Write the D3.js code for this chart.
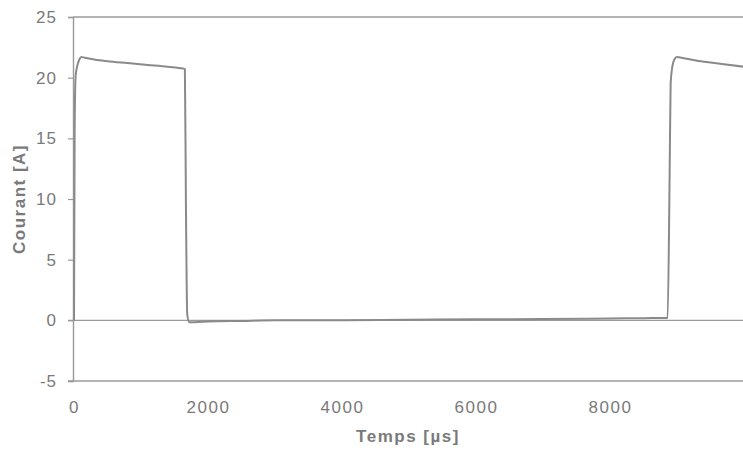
<!DOCTYPE html>
<html>
<head>
<meta charset="utf-8">
<script src="https://cdn.jsdelivr.net/npm/d3@7"></script>
<style>
  html, body { margin: 0; padding: 0; background: #fff; }
  svg { display: block; }
  text { font-family: "Liberation Sans", Arial, sans-serif; fill: #7a7a7a; }
</style>
</head>
<body>
<svg id="chart" width="743" height="450"></svg>
<script>
// ---- data ----
const timeUs = [0, 10, 25, 50, 80, 110, 160, 300, 500, 800, 1100, 1400, 1630, 1655, 1670, 1690, 1720, 1800, 2000, 2500, 3000, 4000, 5000, 6000, 7000, 8000, 8500, 8860, 8890, 8905, 8930, 8960, 9000, 9100, 9300, 9500, 9700, 10000];
const currentA = [0, 16, 20.2, 21.0, 21.5, 21.7, 21.65, 21.5, 21.35, 21.2, 21.05, 20.9, 20.75, 20.7, 10, 0.5, -0.15, -0.15, -0.1, -0.05, 0, 0, 0.05, 0.08, 0.1, 0.15, 0.18, 0.2, 12, 19.5, 20.9, 21.5, 21.7, 21.6, 21.4, 21.25, 21.1, 20.9];
const xTicks = [0, 2000, 4000, 6000, 8000];
const xTickLabels = ["0", "2000", "4000", "6000", "8000"];
const yTicks = [-5, 0, 5, 10, 15, 20, 25];
const yTickLabels = ["-5", "0", "5", "10", "15", "20", "25"];
const xTitle = "Temps [µs]";
const yTitle = "Courant [A]";

// ---- layout ----
const svg = d3.select("#chart");
const mLeft = 74, mRight = 744, mTop = 17, mBottom = 381;
const x = d3.scaleLinear().domain([0, 10000]).range([mLeft, mRight]);
const y = d3.scaleLinear().domain([-5, 25]).range([mBottom, mTop]);

const axisColor = "#9a9a9a";

// horizontal lines at 25, 0, -5
svg.append("line").attr("x1", mLeft - 1).attr("x2", 743)
  .attr("y1", y(25)).attr("y2", y(25))
  .attr("stroke", axisColor).attr("stroke-width", 1.4);
svg.append("line").attr("x1", mLeft - 6).attr("x2", 743)
  .attr("y1", y(0)).attr("y2", y(0))
  .attr("stroke", axisColor).attr("stroke-width", 1.4);
svg.append("line").attr("x1", mLeft - 6).attr("x2", 743)
  .attr("y1", y(-5)).attr("y2", y(-5))
  .attr("stroke", axisColor).attr("stroke-width", 1.4);

// y axis
const yAxis = d3.axisLeft(y).tickValues(yTicks).tickSize(5).tickPadding(10)
  .tickFormat((d, i) => yTickLabels[i]);
const gy = svg.append("g").attr("transform", `translate(${mLeft - 1},0)`).call(yAxis);
gy.select(".domain").attr("stroke", axisColor).attr("stroke-width", 1.4);
gy.selectAll(".tick line").attr("stroke", axisColor).attr("stroke-width", 1.2);
gy.selectAll(".tick text")
  .style("font-size", "17px").style("letter-spacing", "1px")
  .attr("fill", "#7a7a7a").attr("x", -16);

// x axis labels (no tick marks)
const xAxis = d3.axisBottom(x).tickValues(xTicks).tickSize(0).tickPadding(20)
  .tickFormat((d, i) => xTickLabels[i]);
const gx = svg.append("g").attr("transform", `translate(0,${mBottom})`).call(xAxis);
gx.select(".domain").remove();
gx.selectAll(".tick text")
  .style("font-size", "17px").style("letter-spacing", "1.5px")
  .attr("fill", "#7a7a7a");

// titles
svg.append("text").attr("x", 408).attr("y", 442).attr("text-anchor", "middle")
  .style("font-size", "17px").style("letter-spacing", "1.5px").style("font-weight", "bold")
  .attr("fill", "#858585").text(xTitle);
svg.append("text").attr("transform", `translate(25,${(mTop + mBottom) / 2}) rotate(-90)`)
  .attr("text-anchor", "middle")
  .style("font-size", "17px").style("letter-spacing", "1.5px").style("font-weight", "bold")
  .attr("fill", "#858585").text(yTitle);

// trace
const line = d3.line().x((d, i) => x(timeUs[i])).y(d => y(d)).curve(d3.curveMonotoneX);
svg.append("path").datum(currentA)
  .attr("d", line)
  .attr("fill", "none").attr("stroke", "#8a8a8a").attr("stroke-width", 2)
  .attr("stroke-linejoin", "round");
</script>
</body>
</html>
